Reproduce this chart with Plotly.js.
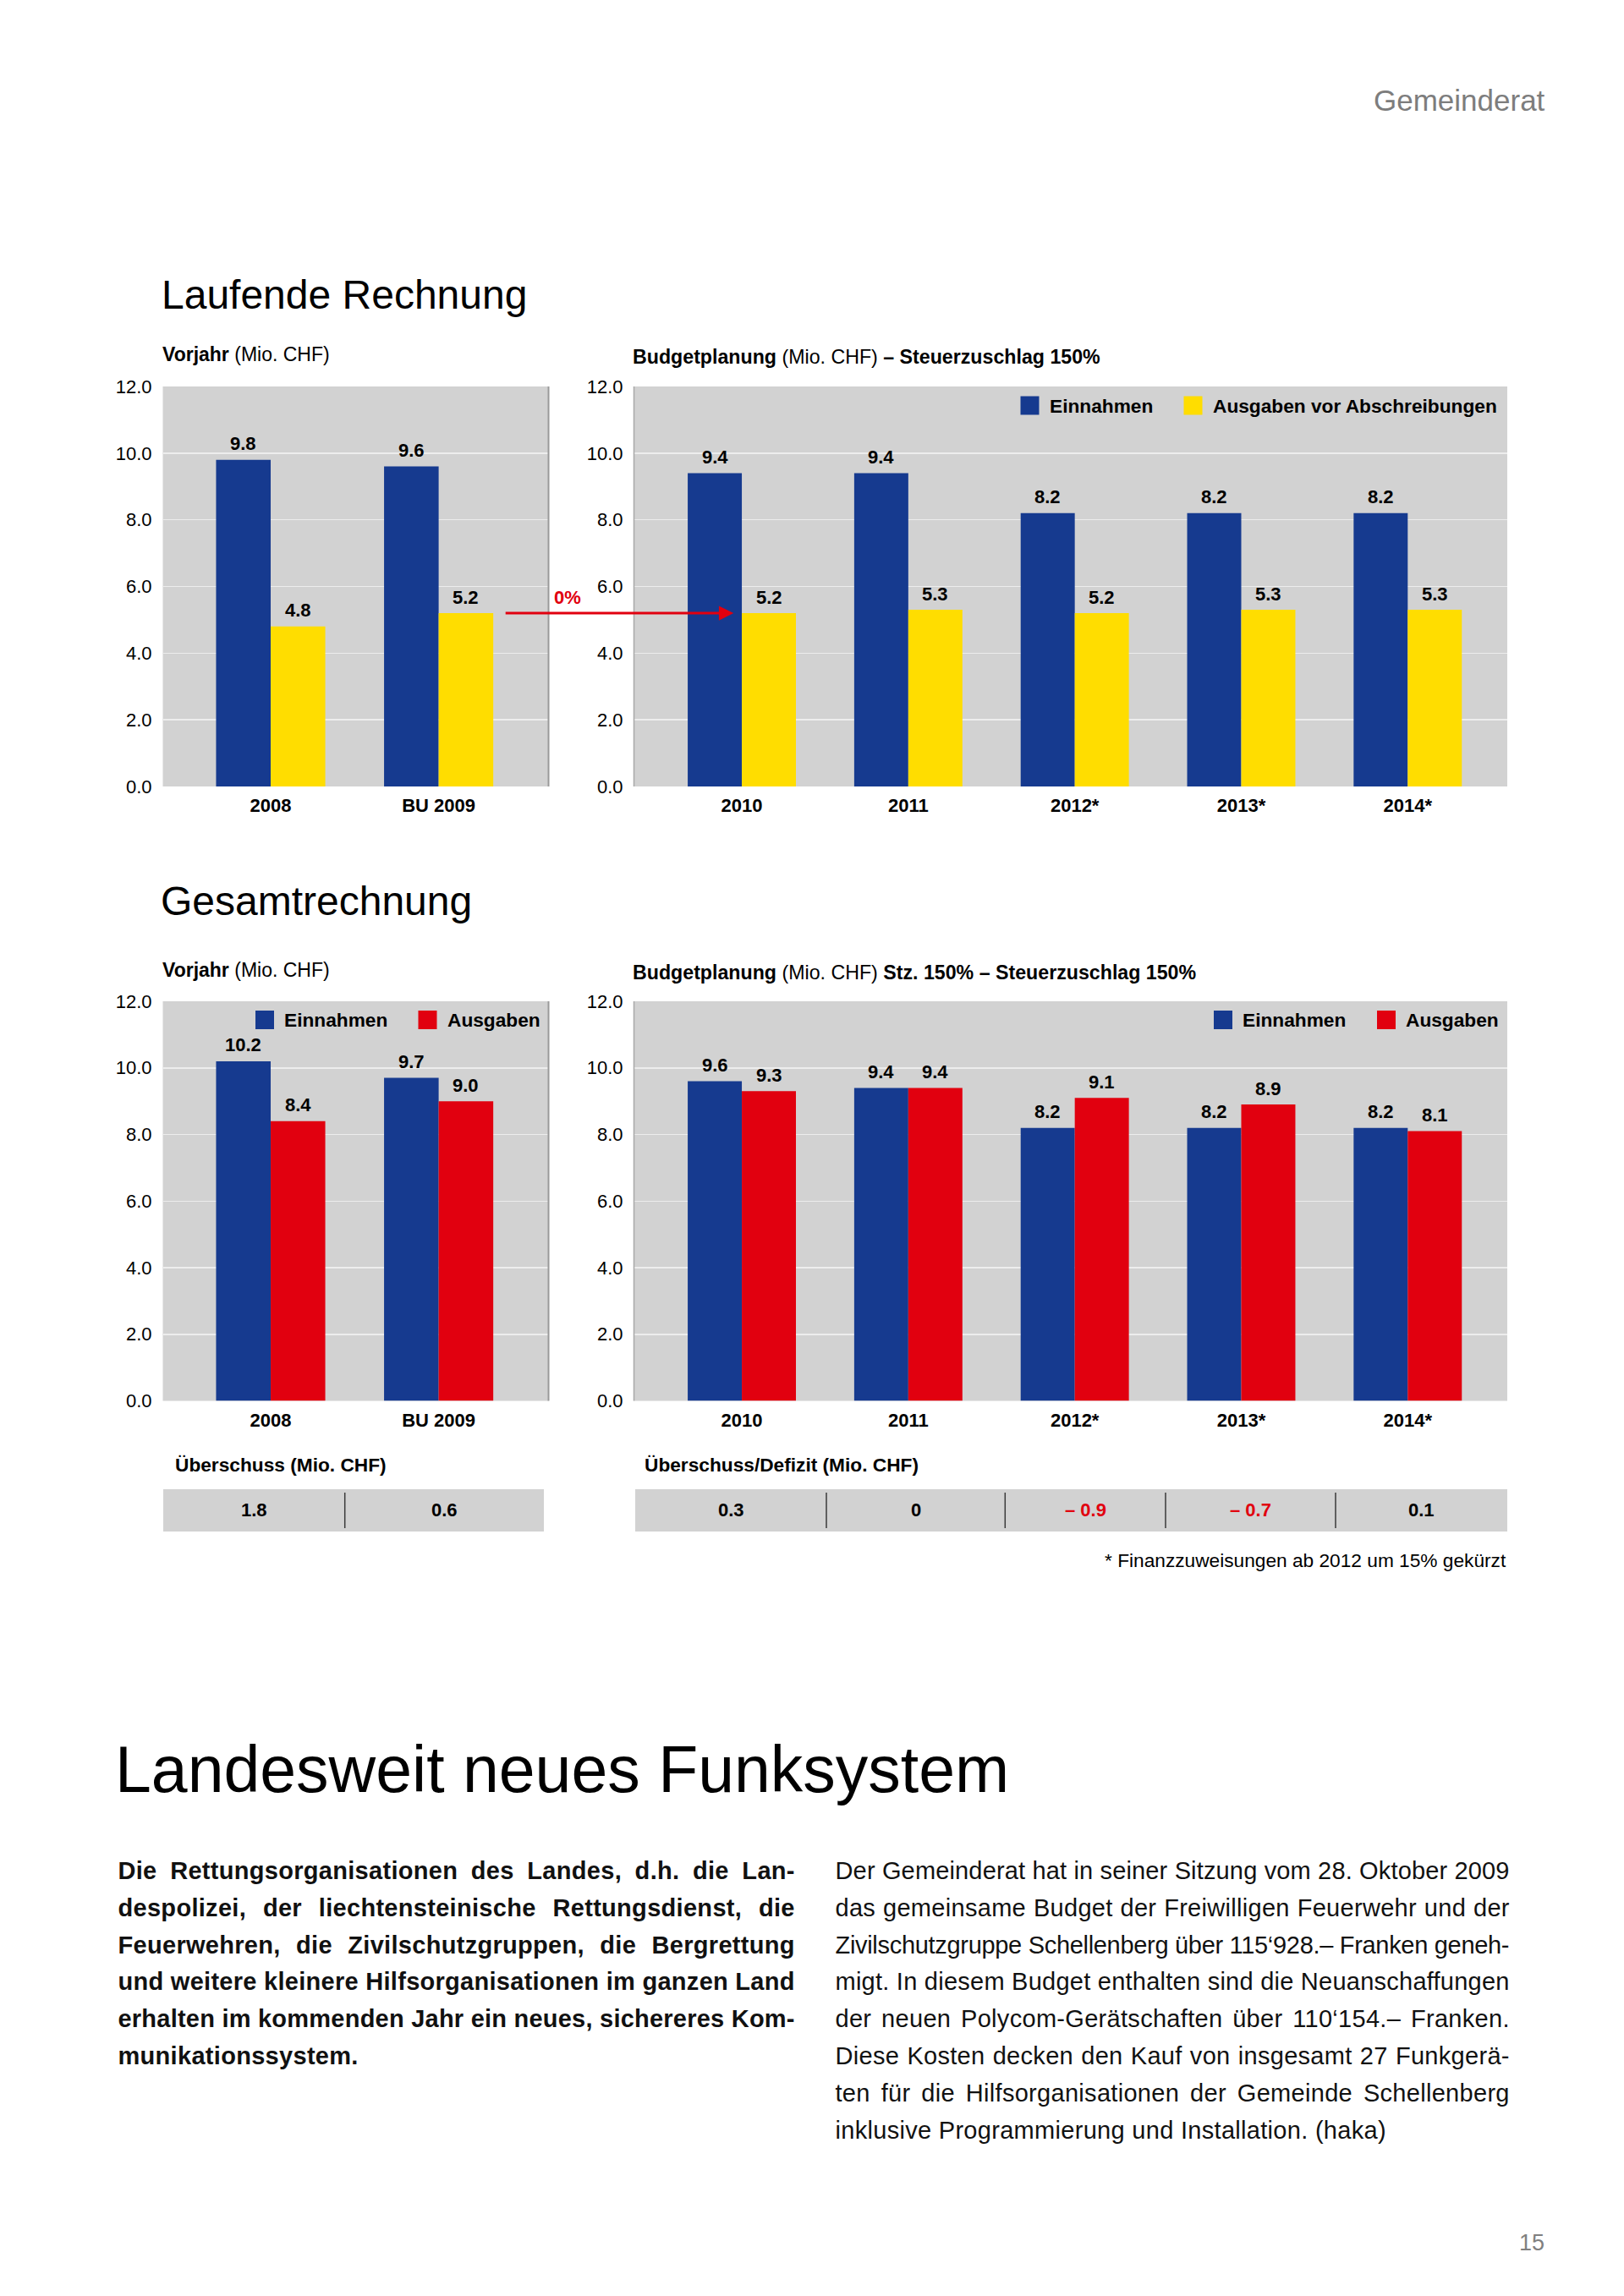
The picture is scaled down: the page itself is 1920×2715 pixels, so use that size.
<!DOCTYPE html>
<html>
<head>
<meta charset="utf-8">
<script src="https://cdn.plot.ly/plotly-3.0.1.min.js"></script>
<style>
html,body{margin:0;padding:0;background:#fff;}
#page{position:relative;width:1920px;height:2715px;overflow:hidden;background:#fff;}
#chart{position:absolute;left:0;top:0;width:1920px;height:2715px;}
.col{position:absolute;font-family:'Liberation Sans',Arial,Helvetica,sans-serif;font-size:29px;line-height:43.8px;color:#111;}
.col div{white-space:nowrap;}
</style>
</head>
<body>
<div id="page">
  <div id="chart"></div>
  <div id="colL" class="col" style="left:139.5px;top:2191px;width:800px;font-weight:bold;"></div>
  <div id="colR" class="col" style="left:987.5px;top:2191px;width:797px;"></div>
</div>
<script>
// ---------------- DATA ----------------
const yearsVorjahr = ['2008', 'BU 2009'];
const yearsPlan = ['2010', '2011', '2012*', '2013*', '2014*'];

// Laufende Rechnung
const lrVorjahrEinnahmen = [9.8, 9.6];
const lrVorjahrAusgaben = [4.8, 5.2];
const lrPlanEinnahmen = [9.4, 9.4, 8.2, 8.2, 8.2];
const lrPlanAusgaben = [5.2, 5.3, 5.2, 5.3, 5.3];

// Gesamtrechnung
const grVorjahrEinnahmen = [10.2, 9.7];
const grVorjahrAusgaben = [8.4, 9.0];
const grPlanEinnahmen = [9.6, 9.4, 8.2, 8.2, 8.2];
const grPlanAusgaben = [9.3, 9.4, 9.1, 8.9, 8.1];

// Überschuss / Defizit
const ueberschussVorjahr = [1.8, 0.6];
const ueberschussPlan = [0.3, 0, -0.9, -0.7, 0.1];

const yTickVals = [0, 2, 4, 6, 8, 10, 12];
const changeLabel = '0%';

const leftLines = [
  'Die Rettungsorganisationen des Landes, d.h. die Lan-',
  'despolizei, der liechtensteinische Rettungsdienst, die',
  'Feuerwehren, die Zivilschutzgruppen, die Bergrettung',
  'und weitere kleinere Hilfsorganisationen im ganzen Land',
  'erhalten im kommenden Jahr ein neues, sichereres Kom-',
  'munikationssystem.'
];
const rightLines = [
  'Der Gemeinderat hat in seiner Sitzung vom 28. Oktober 2009',
  'das gemeinsame Budget der Freiwilligen Feuerwehr und der',
  'Zivilschutzgruppe Schellenberg über 115‘928.– Franken geneh-',
  'migt. In diesem Budget enthalten sind die Neuanschaffungen',
  'der neuen Polycom-Gerätschaften über 110‘154.– Franken.',
  'Diese Kosten decken den Kauf von insgesamt 27 Funkgerä-',
  'ten für die Hilfsorganisationen der Gemeinde Schellenberg',
  'inklusive Programmierung und Installation. (haka)'
];

// ---------------- STYLE ----------------
const W = 1920, H = 2715;
const FONT = "'Liberation Sans', Arial, Helvetica, sans-serif";
const BLUE = '#163a8f', YELLOW = '#ffdd00', RED = '#e1000f', GRAY = '#d2d2d2';
const GRID = '#ededed';
const px = p => p / W;
const py = p => 1 - p / H;

// plot areas (pixels)
const LEFT_X = [192.5, 648.5], RIGHT_X = [749.5, 1782];
const TOP_Y = [457, 930], BOT_Y = [1184, 1656.5];
const HALF = 0.1625; // half bar width in category units (bargap 0.35, 2 bars)

function bar(x, y, color, xa, ya) {
  return {type: 'bar', x: x, y: y, xaxis: xa, yaxis: ya, marker: {color: color, line: {width: 0}},
          showlegend: false, hoverinfo: 'skip'};
}
const data = [
  bar(yearsVorjahr, lrVorjahrEinnahmen, BLUE, 'x', 'y'),
  bar(yearsVorjahr, lrVorjahrAusgaben, YELLOW, 'x', 'y'),
  bar(yearsPlan, lrPlanEinnahmen, BLUE, 'x2', 'y2'),
  bar(yearsPlan, lrPlanAusgaben, YELLOW, 'x2', 'y2'),
  bar(yearsVorjahr, grVorjahrEinnahmen, BLUE, 'x3', 'y3'),
  bar(yearsVorjahr, grVorjahrAusgaben, RED, 'x3', 'y3'),
  bar(yearsPlan, grPlanEinnahmen, BLUE, 'x4', 'y4'),
  bar(yearsPlan, grPlanAusgaben, RED, 'x4', 'y4')
];

function xAxis(dom, range, anchor) {
  return {domain: [px(dom[0]), px(dom[1])], anchor: anchor, type: 'category', range: range,
          showgrid: false, zeroline: false, showline: false, ticks: '', ticklabelstandoff: 7,
          tickfont: {family: FONT, size: 22, color: '#000', weight: 'bold'}, fixedrange: true};
}
function yAxis(dom, anchor) {
  return {domain: [py(dom[1]), py(dom[0])], anchor: anchor, range: [0, 12], tickvals: yTickVals,
          tickformat: '.1f', showgrid: true, gridcolor: GRID, gridwidth: 1.5, zeroline: false,
          showline: false, ticks: '', ticklabelstandoff: 12,
          tickfont: {family: FONT, size: 22, color: '#000'}, fixedrange: true};
}
const rangeV = [-0.642, 1.654];
const rangeP = [-0.648, 4.598];

const ann = [];
const shapes = [];

function T(text, xpx, ypx, size, o) {
  return Object.assign({xref: 'paper', yref: 'paper', x: px(xpx), y: py(ypx), text: text,
    showarrow: false, xanchor: 'left', yanchor: 'middle',
    font: {family: FONT, size: size, color: '#000'}}, o || {});
}
function barLabels(vals, side, xref, yref) {
  vals.forEach((v, i) => ann.push({xref: xref, yref: yref, x: i + side * HALF, y: v,
    text: '<b>' + v.toFixed(1) + '</b>', showarrow: false, yshift: 19, xanchor: 'center', yanchor: 'middle',
    font: {family: FONT, size: 22, color: '#000'}}));
}
barLabels(lrVorjahrEinnahmen, -1, 'x', 'y');
barLabels(lrVorjahrAusgaben, 1, 'x', 'y');
barLabels(lrPlanEinnahmen, -1, 'x2', 'y2');
barLabels(lrPlanAusgaben, 1, 'x2', 'y2');
barLabels(grVorjahrEinnahmen, -1, 'x3', 'y3');
barLabels(grVorjahrAusgaben, 1, 'x3', 'y3');
barLabels(grPlanEinnahmen, -1, 'x4', 'y4');
barLabels(grPlanAusgaben, 1, 'x4', 'y4');

// page texts
ann.push(T('Gemeinderat', 1829, 119, 35, {xanchor: 'right', font: {family: FONT, size: 35, color: '#7d7d7d'}}));
ann.push(T('Laufende Rechnung', 189, 348, 48));
ann.push(T('Gesamtrechnung', 188, 1065, 48));
ann.push(T('<b>Vorjahr</b> (Mio. CHF)', 190, 419, 23));
ann.push(T('<b>Budgetplanung</b> (Mio. CHF) <b>– Steuerzuschlag 150%</b>', 746, 422, 23.2));
ann.push(T('<b>Vorjahr</b> (Mio. CHF)', 190, 1147, 23));
ann.push(T('<b>Budgetplanung</b> (Mio. CHF) <b>Stz. 150% – Steuerzuschlag 150%</b>', 746, 1150, 23.2));
ann.push(T('<b>' + changeLabel + '</b>', 671, 706, 22, {xanchor: 'center', font: {family: FONT, size: 22, color: RED}}));
ann.push(T('Landesweit neues Funksystem', 134, 2092, 77));
ann.push(T('15', 1828, 2652, 27, {xanchor: 'right', font: {family: FONT, size: 27, color: '#808080'}}));
ann.push(T('<b>Überschuss (Mio. CHF)</b>', 205, 1732, 22.7));
ann.push(T('<b>Überschuss/Defizit (Mio. CHF)</b>', 760, 1732, 22.7));
ann.push(T('* Finanzzuweisungen ab 2012 um 15% gekürzt', 1783, 1845, 22.7, {xanchor: 'right'}));

// arrow from Vorjahr BU 2009 Ausgaben to 2010 Ausgaben
ann.push({xref: 'x2', yref: 'y2', x: -0.05, y: lrVorjahrAusgaben[lrVorjahrAusgaben.length - 1],
  ax: -271, ay: 0, axref: 'pixel', ayref: 'pixel', text: '', showarrow: true,
  arrowhead: 2, arrowsize: 1.15, arrowwidth: 3, arrowcolor: RED, standoff: 0, startstandoff: 0});

// legends (drawn)
function legendItem(x0, yc, color, label) {
  shapes.push({type: 'rect', xref: 'paper', yref: 'paper', x0: px(x0), x1: px(x0 + 22),
    y0: py(yc + 11), y1: py(yc - 11), fillcolor: color, line: {width: 0}});
  ann.push(T('<b>' + label + '</b>', x0 + 32, yc, 22.7));
}
legendItem(1206.5, 479.5, BLUE, 'Einnahmen');
legendItem(1399.5, 479.5, YELLOW, 'Ausgaben vor Abschreibungen');
legendItem(302, 1206, BLUE, 'Einnahmen');
legendItem(494.5, 1206, RED, 'Ausgaben');
legendItem(1435, 1206, BLUE, 'Einnahmen');
legendItem(1628, 1206, RED, 'Ausgaben');

// plot edge lines
function vline(xref, xv, yref, color, w) {
  shapes.push({type: 'line', xref: xref, yref: yref, x0: xv, x1: xv, y0: 0, y1: 1,
    line: {color: color, width: w}});
}
vline('x domain', 1, 'y domain', '#9a9a9a', 2);
vline('x3 domain', 1, 'y3 domain', '#9a9a9a', 2);
vline('x2 domain', 0, 'y2 domain', '#a8a8a8', 1.5);
vline('x4 domain', 0, 'y4 domain', '#a8a8a8', 1.5);

// tables
const TABLE_Y = [1761, 1811];
const TABLE1_EDGES = [193, 407.7, 643];
const TABLE2_EDGES = [751, 977, 1188.3, 1378, 1579, 1782];
function fmt(v) {
  if (v === 0) return '0';
  return v < 0 ? '– ' + Math.abs(v).toFixed(1) : v.toFixed(1);
}
function table(edges, vals) {
  shapes.push({type: 'rect', xref: 'paper', yref: 'paper', x0: px(edges[0]), x1: px(edges[edges.length - 1]),
    y0: py(TABLE_Y[1]), y1: py(TABLE_Y[0]), fillcolor: GRAY, line: {width: 0}, layer: 'below'});
  for (let i = 1; i < edges.length - 1; i++) {
    shapes.push({type: 'line', xref: 'paper', yref: 'paper', x0: px(edges[i]), x1: px(edges[i]),
      y0: py(TABLE_Y[1] - 4), y1: py(TABLE_Y[0] + 4), line: {color: '#3a3a3a', width: 1.5}});
  }
  vals.forEach((v, i) => {
    const c = (edges[i] + edges[i + 1]) / 2;
    ann.push(T('<b>' + fmt(v) + '</b>', c, 1785, 22,
      {xanchor: 'center', font: {family: FONT, size: 22, color: v < 0 ? RED : '#000'}}));
  });
}
table(TABLE1_EDGES, ueberschussVorjahr);
table(TABLE2_EDGES, ueberschussPlan);

const layout = {
  width: W, height: H, margin: {l: 0, r: 0, t: 0, b: 0},
  paper_bgcolor: '#ffffff', plot_bgcolor: GRAY,
  barmode: 'group', bargap: 0.35, bargroupgap: 0,
  showlegend: false, font: {family: FONT, color: '#000'},
  xaxis: xAxis(LEFT_X, rangeV, 'y'),
  yaxis: yAxis(TOP_Y, 'x'),
  xaxis2: xAxis(RIGHT_X, rangeP, 'y2'),
  yaxis2: yAxis(TOP_Y, 'x2'),
  xaxis3: xAxis(LEFT_X, rangeV, 'y3'),
  yaxis3: yAxis(BOT_Y, 'x3'),
  xaxis4: xAxis(RIGHT_X, rangeP, 'y4'),
  yaxis4: yAxis(BOT_Y, 'x4'),
  annotations: ann, shapes: shapes
};

Plotly.newPlot('chart', data, layout, {staticPlot: true, displayModeBar: false});

// ---------------- article columns (justified line by line) ----------------
function fillCol(id, lines, ls0) {
  const el = document.getElementById(id);
  el.innerHTML = '';
  const colW = el.clientWidth;
  lines.forEach((t, i) => {
    const d = document.createElement('div');
    const s = document.createElement('span');
    s.textContent = t;
    s.style.letterSpacing = ls0 + 'px';
    d.appendChild(s);
    el.appendChild(d);
    if (i === lines.length - 1) return;
    const w = s.getBoundingClientRect().width - ls0;
    const nSp = (t.match(/ /g) || []).length;
    if (w > colW) {
      s.style.letterSpacing = (ls0 - (w - colW) / (t.length - 1)) + 'px';
    } else if (nSp > 0) {
      s.style.wordSpacing = ((colW - w) / nSp) + 'px';
    }
  });
}
function layoutCols() {
  fillCol('colL', leftLines, 0.3);
  fillCol('colR', rightLines, 0.3);
}
layoutCols();
if (document.fonts && document.fonts.ready) document.fonts.ready.then(layoutCols);
</script>
</body>
</html>
